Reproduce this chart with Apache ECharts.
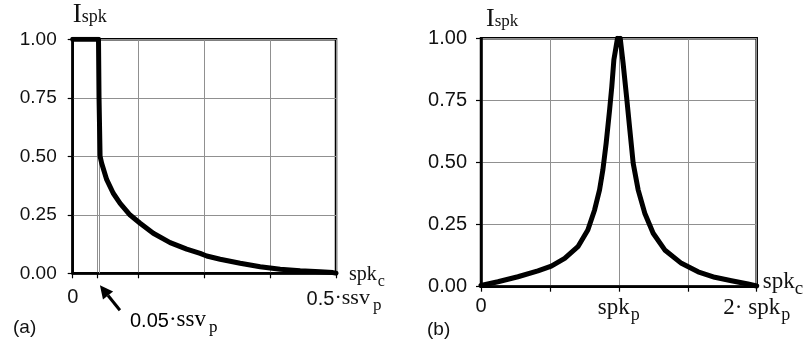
<!DOCTYPE html>
<html><head><meta charset="utf-8">
<script src="https://cdn.jsdelivr.net/npm/echarts@6/dist/echarts.min.js"></script>
<style>html,body{margin:0;padding:0;background:#fff}#c{width:807px;height:343px}</style>
</head><body><div id="c"></div>
<script>
// ---- data ----
const leftX = [0, 0.049, 0.050, 0.052, 0.055, 0.0646, 0.077, 0.090, 0.109, 0.128, 0.153, 0.185, 0.2165, 0.242, 0.2545, 0.280, 0.318, 0.356, 0.394, 0.432, 0.470, 0.494, 0.500];
const leftY = [1.00, 1.00, 0.75, 0.50, 0.470, 0.400, 0.342, 0.299, 0.249, 0.214, 0.171, 0.131, 0.103, 0.085, 0.074, 0.060, 0.043, 0.028, 0.017, 0.011, 0.007, 0.003, 0.000];
const rightX = [0, 0.123, 0.268, 0.413, 0.510, 0.607, 0.703, 0.775, 0.824, 0.860, 0.884, 0.908, 0.933, 0.949, 0.964, 0.980, 0.990, 1.000, 1.010, 1.031, 1.056, 1.080, 1.104, 1.140, 1.188, 1.249, 1.333, 1.454, 1.575, 1.696, 1.817, 1.937, 2.000];
const rightY = [0.005, 0.020, 0.040, 0.064, 0.083, 0.114, 0.161, 0.228, 0.309, 0.390, 0.470, 0.578, 0.712, 0.806, 0.914, 0.966, 1.000, 0.975, 1.000, 0.899, 0.765, 0.630, 0.497, 0.390, 0.296, 0.215, 0.148, 0.094, 0.060, 0.038, 0.024, 0.011, 0.003];
const yTicks = [0, 0.25, 0.5, 0.75, 1];
const leftXTicks = [0, 0.046, 0.125, 0.25, 0.375, 0.5];
const leftMarker = 0.046;          // the "0.05·ssv p" position
const rightXTicks = [0, 0.5, 1, 1.5, 2];
const leftXLabels = {0: '{n|0}', 0.5: '{n2|0.5}{s|·ssv}{sub|p}'};
const rightXLabels = {0: '{n|0}', 1: '{s|spk}{sub|p}', 2: '{s|2· spk}{sub|p}'};
const yName = '{I|I}{ss|spk}';
const xName = '{s|spk}{sub|c}';
const markerLabel = '{n|0.05}{s|·ssv}{sub|p}';

// ---- styles ----
const SANS = '"Liberation Sans", Arial, sans-serif';
const SERIF = '"Liberation Serif", "Times New Roman", serif';
const INK = '#111';
function rich(fs, ss, sb, subPad) {
  return {
    n:   {fontFamily: SANS, fontSize: fs, lineHeight: fs, color: INK, verticalAlign: 'bottom', padding: [0, 0, 5, 0]},
    n2:  {fontFamily: SANS, fontSize: fs, lineHeight: fs, color: INK, verticalAlign: 'bottom', padding: [0, 0, 5, 16]},
    s:   {fontFamily: SERIF, fontSize: ss, lineHeight: ss, color: INK, verticalAlign: 'bottom', padding: [0, 0, 5, 0]},
    sub: {fontFamily: SERIF, fontSize: sb, lineHeight: sb, color: INK, verticalAlign: 'bottom', padding: [0, 0, 0, subPad == null ? 3 : subPad]},
    I:   {fontFamily: SERIF, fontSize: ss + 7, lineHeight: ss + 7, color: INK, verticalAlign: 'bottom'},
    ss:  {fontFamily: SERIF, fontSize: ss - 2, lineHeight: ss - 2, color: INK, verticalAlign: 'bottom', padding: [0, 0, 2, 0]}
  };
}
function near(map, v) {
  for (const k in map) { if (Math.abs(v - Number(k)) < 1e-6) return map[k]; }
  return '';
}
const gridLine = {show: true, lineStyle: {color: '#909090', width: 1}};
const axisLine = {show: true, onZero: false, lineStyle: {color: '#000', width: 2.5}};
const tick = {show: true, length: 5, lineStyle: {color: '#000', width: 1.2}};

const chart = echarts.init(document.getElementById('c'), null, {renderer: 'canvas'});
const option = {
  animation: false,
  backgroundColor: '#fff',
  grid: [
    {left: 72.7, top: 39.3, width: 263.3, height: 234, outerBoundsMode: 'none', containLabel: false,
     show: true, borderColor: '#000', borderWidth: 2.5, backgroundColor: 'transparent'},
    {left: 481, top: 38.3, width: 275.7, height: 248.4, outerBoundsMode: 'none', containLabel: false,
     show: true, borderColor: '#000', borderWidth: 2.5, backgroundColor: 'transparent'}
  ],
  xAxis: [
    {type: 'value', gridIndex: 0, min: 0, max: 0.5, interval: 0.125,
     axisLine: axisLine, axisTick: Object.assign({customValues: leftXTicks}, tick), splitLine: gridLine,
     axisLabel: {margin: 19, formatter: v => near(leftXLabels, v), rich: rich(20, 22, 17), showMinLabel: true, showMaxLabel: true},
     name: xName, nameLocation: 'end', nameGap: 13, nameMoveOverlap: false,
     nameTextStyle: {padding: [12, 0, 0, 0], rich: rich(19, 20, 16, 1)}},
    {type: 'value', gridIndex: 1, min: 0, max: 2, interval: 0.5,
     axisLine: axisLine, axisTick: Object.assign({customValues: rightXTicks}, tick), splitLine: gridLine,
     axisLabel: {margin: 15, formatter: v => near(rightXLabels, v), rich: rich(20, 23, 18, 1), showMinLabel: true, showMaxLabel: true},
     name: xName, nameLocation: 'end', nameGap: 6, nameMoveOverlap: false,
     nameTextStyle: {rich: rich(20, 23, 19, 0)}}
  ],
  yAxis: [
    {type: 'value', gridIndex: 0, min: 0, max: 1, interval: 0.25,
     axisLine: axisLine, axisTick: Object.assign({customValues: yTicks}, tick), splitLine: gridLine,
     axisLabel: {margin: 16, formatter: v => v.toFixed(2), fontFamily: SANS, fontSize: 19, color: INK},
     name: yName, nameLocation: 'end', nameGap: 11, nameMoveOverlap: false,
     nameTextStyle: {align: 'left', verticalAlign: 'bottom', rich: rich(19, 20, 16)}},
    {type: 'value', gridIndex: 1, min: 0, max: 1, interval: 0.25,
     axisLine: axisLine, axisTick: Object.assign({customValues: yTicks}, tick), splitLine: gridLine,
     axisLabel: {margin: 14, formatter: v => v.toFixed(2), fontFamily: SANS, fontSize: 20, color: INK},
     name: yName, nameLocation: 'end', nameGap: 6, nameMoveOverlap: false,
     nameTextStyle: {align: 'left', verticalAlign: 'bottom', padding: [0, 0, 0, 5], rich: rich(17, 19, 15)}}
  ],
  series: [
    {type: 'line', xAxisIndex: 0, yAxisIndex: 0, showSymbol: false, z: 5,
     data: leftX.map((x, i) => [x, leftY[i]]),
     lineStyle: {color: '#000', width: 5, join: 'round', cap: 'round'},
     markLine: {silent: true, symbol: 'none', label: {show: false},
       lineStyle: {color: '#909090', width: 1, type: 'solid'},
       data: [{xAxis: leftMarker}]}},
    {type: 'line', xAxisIndex: 1, yAxisIndex: 1, showSymbol: false, z: 5,
     data: rightX.map((x, i) => [x, rightY[i]]),
     lineStyle: {color: '#000', width: 5, join: 'round', cap: 'round'}}
  ]
};
chart.setOption(option);

// annotations anchored to the axis scale
const p0 = chart.convertToPixel({gridIndex: 0}, [leftMarker, 0]);
const tip = [p0[0] + 3, p0[1] + 12];
const tail = [tip[0] + 20, tip[1] + 25];
const dx = tip[0] - tail[0], dy = tip[1] - tail[1], L = Math.hypot(dx, dy);
const ux = dx / L, uy = dy / L, hl = 13, hw = 6.5;
const base = [tip[0] - ux * hl, tip[1] - uy * hl];
chart.setOption({
  graphic: [
    {type: 'line', shape: {x1: tail[0], y1: tail[1], x2: base[0], y2: base[1]}, style: {stroke: '#000', lineWidth: 3}},
    {type: 'polygon', shape: {points: [tip, [base[0] - uy * hw, base[1] + ux * hw], [base[0] + uy * hw, base[1] - ux * hw]]}, style: {fill: '#000'}},
    {type: 'text', x: 130, y: 313, style: {text: markerLabel, rich: rich(20, 23, 17), verticalAlign: 'top'}},
    {type: 'text', x: 13, y: 318, style: {text: '(a)', fontFamily: SANS, fontSize: 19, fill: INK, verticalAlign: 'top'}},
    {type: 'text', x: 427, y: 320, style: {text: '(b)', fontFamily: SANS, fontSize: 19, fill: INK, verticalAlign: 'top'}}
  ]
});
</script></body></html>
